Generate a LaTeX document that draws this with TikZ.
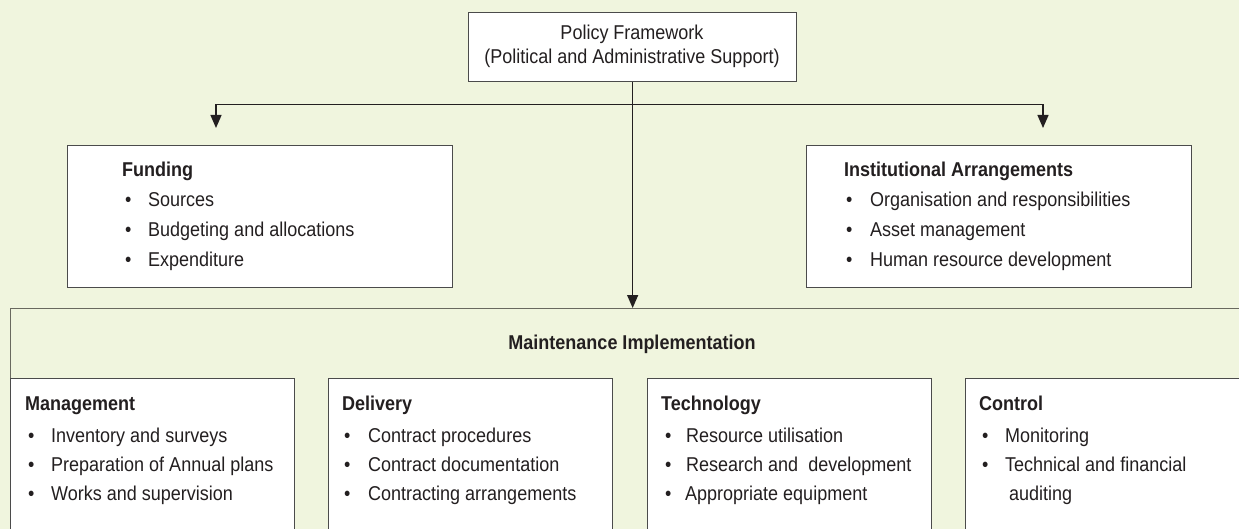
\documentclass[tikz,border=0pt]{standalone}
\usepackage{fontspec}
\setmainfont{Liberation Sans}[FakeStretch=0.9]
\usetikzlibrary{arrows.meta}
\definecolor{bgc}{RGB}{240,245,222}
\definecolor{edge}{RGB}{75,75,75}
\definecolor{frameline}{RGB}{105,105,95}
\definecolor{ink}{RGB}{35,31,32}
\newcommand\bl[2][23pt]{\makebox[#1][l]{\textbullet}#2}
\begin{document}
\begin{tikzpicture}[x=1pt,y=-1pt,
  boxn/.style={draw=edge, line width=1.3pt, fill=white, inner sep=0pt, anchor=north west},
  txt/.style={inner sep=0pt, anchor=base west, text=ink, font=\fontsize{20}{24}\selectfont},
  ttl/.style={txt, font=\fontsize{20}{24}\selectfont\bfseries},
  conn/.style={draw=ink, line width=1.3pt},
  arr/.style={conn, -{Triangle[length=13pt,width=11pt]}},
]
\path[use as bounding box, fill=bgc] (0,0) rectangle (1239,529);
\clip (0,0) rectangle (1239,529);

% Policy framework
\node[boxn, minimum width=328pt, minimum height=69pt] (policy) at (468,12) {};
\node[txt, anchor=base] (pol1) at (632,40) {Policy Framework};
\node[txt, anchor=base] (pol2) at (632,64) {(Political and Administrative Support)};

% Funding
\node[boxn, minimum width=385pt, minimum height=142pt] (funding) at (67,145) {};
\node[ttl] (fund-t) at (122,177) {Funding};
\node[txt] (fund-1) at (125,207) {\bl{Sources}};
\node[txt] (fund-2) at (125,237) {\bl{Budgeting and allocations}};
\node[txt] (fund-3) at (125,267) {\bl{Expenditure}};

% Institutional arrangements
\node[boxn, minimum width=385pt, minimum height=142pt] (inst) at (806,145) {};
\node[ttl] (inst-t) at (844,177) {Institutional Arrangements};
\node[txt] (inst-1) at (846,207) {\bl[24pt]{Organisation and responsibilities}};
\node[txt] (inst-2) at (846,237) {\bl[24pt]{Asset management}};
\node[txt] (inst-3) at (846,267) {\bl[24pt]{Human resource development}};

% Maintenance implementation frame
\node[draw=frameline, line width=1.3pt, fill=bgc, inner sep=0pt, anchor=north west,
      minimum width=1260pt, minimum height=300pt] (frame) at (10,308) {};
\node[ttl, anchor=base] (maint) at (632,349) {Maintenance Implementation};

% Bottom boxes
\node[boxn, minimum width=284pt, minimum height=200pt] (mgmt) at (10,378) {};
\node[ttl] (mgmt-t) at (25,410) {Management};
\node[txt] (mgmt-1) at (28,442) {\bl{Inventory and surveys}};
\node[txt] (mgmt-2) at (28,471) {\bl{Preparation of Annual plans}};
\node[txt] (mgmt-3) at (28,500) {\bl{Works and supervision}};

\node[boxn, minimum width=284pt, minimum height=200pt] (deliv) at (328,378) {};
\node[ttl] (deliv-t) at (342,410) {Delivery};
\node[txt] (deliv-1) at (344,442) {\bl[24pt]{Contract procedures}};
\node[txt] (deliv-2) at (344,471) {\bl[24pt]{Contract documentation}};
\node[txt] (deliv-3) at (344,500) {\bl[24pt]{Contracting arrangements}};

\node[boxn, minimum width=284pt, minimum height=200pt] (tech) at (647,378) {};
\node[ttl] (tech-t) at (661,410) {Technology};
\node[txt] (tech-1) at (665,442) {\bl[21pt]{Resource utilisation}};
\node[txt] (tech-2) at (665,471) {\bl[21pt]{Research and\ \ development}};
\node[txt] (tech-3) at (665,500) {\bl[20pt]{Appropriate equipment}};

\node[boxn, minimum width=284pt, minimum height=200pt] (ctrl) at (965,378) {};
\node[ttl] (ctrl-t) at (979,410) {Control};
\node[txt] (ctrl-1) at (982,442) {\bl{Monitoring}};
\node[txt] (ctrl-2) at (982,471) {\bl{Technical and financial}};
\node[txt] (ctrl-3) at (1009,500) {auditing};

% Connectors
\coordinate (split) at ([yshift=-22pt]policy.south);
\coordinate (fa) at (216,128);
\coordinate (ia) at (1043,128);
\draw[conn] (policy.south) -- (split);
\draw[arr] (split) -| (fa);
\draw[arr] (split) -| (ia);
\draw[arr] (split) -- (split |- frame.north);
\end{tikzpicture}
\end{document}
